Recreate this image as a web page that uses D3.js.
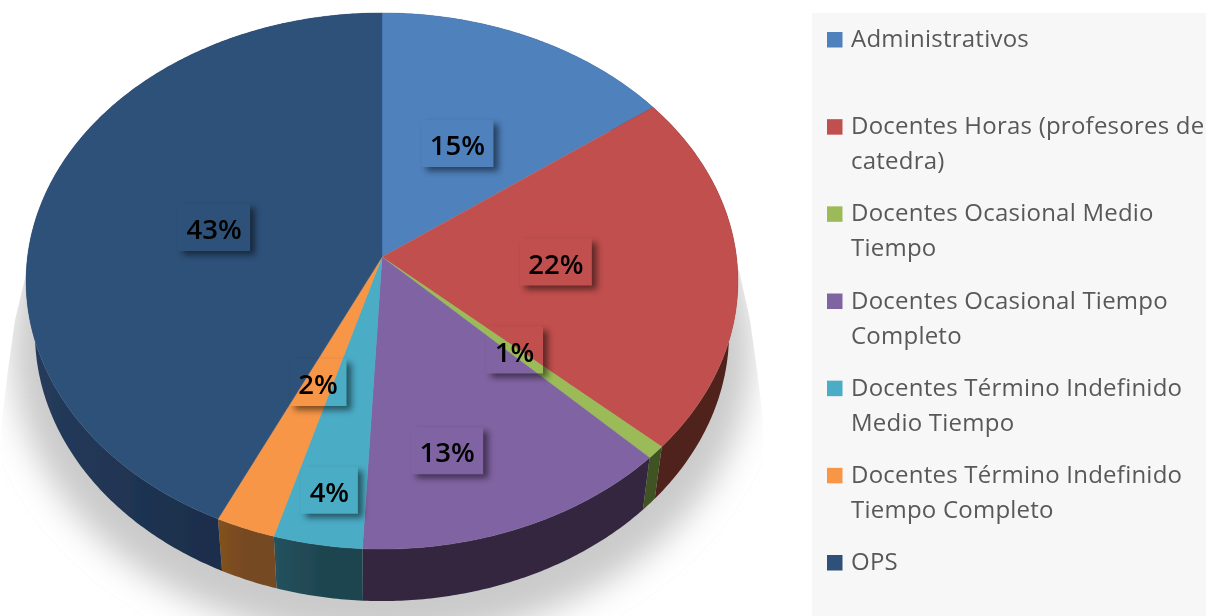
<!DOCTYPE html>
<html>
<head>
<meta charset="utf-8">
<script src="https://cdn.jsdelivr.net/npm/d3@7"></script>
<style>
  html, body { margin: 0; padding: 0; background: #fff; }
  svg { display: block; }
  text { font-family: "Open Sans", sans-serif; }
</style>
</head>
<body>
<svg id="chart"></svg>
<script>
const categories = [
  ['Administrativos'],
  ['Docentes Horas (profesores de', 'catedra)'],
  ['Docentes Ocasional Medio', 'Tiempo'],
  ['Docentes Ocasional Tiempo', 'Completo'],
  ['Docentes Término Indefinido', 'Medio Tiempo'],
  ['Docentes Término Indefinido', 'Tiempo Completo'],
  ['OPS']
];
const shares = [14.9, 21.8, 0.8, 13.3, 3.7, 2.49, 43.01];
const topColors = ['#4f81bd', '#c0504d', '#9bbb59', '#8064a2', '#4bacc6', '#f79646', '#2f5179'];
const wallColors = ['#263f5e', '#4f201e', '#3f5220', '#352841', '#1e4550', '#754820', '#1a2d4a'];
const wallColorsLeft = ['#263f5e', '#4f201e', '#3f5220', '#352841', '#25525e', '#82521f', '#263c5c'];

// label placement on the pie, as fraction of radius and a turn off the slice middle
const labelRadius = [0.49, 0.49, 0.5, 0.71, 0.83, 0.49, 0.49];
const labelTurn = [0, 0, 0, 7, 0, 0, 0];

const width = 1206, height = 616;
const cx = 382, cy = 257;
const rx = 354.5, ry = 265.9, tilt = 0.0895;
const depth = 52, shrink = 0.975;

const svg = d3.select('#chart').attr('width', width).attr('height', height);
const defs = svg.append('defs');

defs.append('filter').attr('id', 'shadowBlur')
  .attr('x', '-20%').attr('y', '-20%').attr('width', '140%').attr('height', '140%')
  .append('feGaussianBlur').attr('stdDeviation', 16);

defs.append('filter').attr('id', 'boxBlur')
  .attr('x', '-30%').attr('y', '-30%').attr('width', '160%').attr('height', '160%')
  .append('feGaussianBlur').attr('stdDeviation', 3.2);

defs.append('filter').attr('id', 'soft')
  .attr('x', '-5%').attr('y', '-5%').attr('width', '110%').attr('height', '110%')
  .append('feGaussianBlur').attr('stdDeviation', 0.45);

defs.append('clipPath').attr('id', 'shadowClip')
  .append('path').attr('d', 'M27,270L739,270L750,320L757,370L763,420L763,616L0,616L2,420L8,370L15,320Z');

wallColors.forEach((c, i) => {
  const grad = defs.append('linearGradient').attr('id', `wall${i}`);
  grad.append('stop').attr('offset', 0).attr('stop-color', wallColorsLeft[i]);
  grad.append('stop').attr('offset', 0.55).attr('stop-color', c);
});

// the pie lies tilted, so the near half comes out bigger than the far half
function project(angle, r = 1) {
  const x = Math.sin(angle) * r, y = -Math.cos(angle) * r;
  const w = 1 - tilt * y;
  return [cx + rx * x / w, cy + ry * y / w];
}
const lower = ([x, y]) => [cx + (x - cx) * shrink, y + depth];

const arcPoints = (a0, a1) => {
  const n = Math.max(2, Math.ceil((a1 - a0) / 0.01));
  return d3.range(n + 1).map(i => project(a0 + (a1 - a0) * i / n));
};

const pie = d3.pie().sort(null).value(d => d);
const slices = pie(shares);
const line = d3.line();

// shadow under the pie
svg.append('g').attr('filter', 'url(#soft)')
  .append('g').attr('clip-path', 'url(#shadowClip)')
  .append('ellipse')
  .attr('cx', cx).attr('cy', 350).attr('rx', 370).attr('ry', 292)
  .attr('fill', '#cbcbcb')
  .attr('filter', 'url(#shadowBlur)');

const pieGroup = svg.append('g').attr('filter', 'url(#soft)');

pieGroup.selectAll('path.wall')
  .data(slices)
  .enter()
  .append('path')
  .attr('class', 'wall')
  .attr('fill', (d, i) => `url(#wall${i})`)
  .attr('d', d => {
    const rim = arcPoints(d.startAngle, d.endAngle);
    return line(rim.concat(rim.map(lower).reverse())) + 'Z';
  });

pieGroup.selectAll('path.top')
  .data(slices)
  .enter()
  .append('path')
  .attr('class', 'top')
  .attr('fill', (d, i) => topColors[i])
  .attr('stroke', (d, i) => topColors[i])
  .attr('stroke-width', 0.4)
  .attr('d', d => line([[cx, cy]].concat(arcPoints(d.startAngle, d.endAngle))) + 'Z');

// percent labels: the box itself is see-through, only its shadow shows
const boxW = d => d.value < 9.5 ? 57 : 72;
const boxH = 47;

const labels = svg.selectAll('g.label')
  .data(slices)
  .enter()
  .append('g')
  .attr('class', 'label')
  .attr('transform', (d, i) => {
    const mid = (d.startAngle + d.endAngle) / 2 + labelTurn[i] * Math.PI / 180;
    const [x, y] = project(mid, labelRadius[i]);
    return `translate(${x},${y})`;
  });

labels.each(function (d, i) {
  const w = boxW(d);
  defs.append('clipPath').attr('id', `boxClip${i}`)
    .append('path')
    .attr('clip-rule', 'evenodd')
    .attr('d', `M-70,-70H70V70H-70Z M${-w / 2},-25h${w}v${boxH}h${-w}Z`);
});

labels.append('g')
  .attr('clip-path', (d, i) => `url(#boxClip${i})`)
  .append('rect')
  .attr('x', d => -boxW(d) / 2 + 5)
  .attr('y', -21)
  .attr('width', boxW)
  .attr('height', boxH)
  .attr('fill', '#000')
  .attr('opacity', 0.5)
  .attr('filter', 'url(#boxBlur)');

labels.append('text')
  .attr('text-anchor', 'middle')
  .attr('y', 10)
  .attr('font-size', 27.5)
  .attr('font-weight', 600)
  .attr('fill', '#000')
  .attr('filter', 'url(#soft)')
  .text(d => d3.format('.0f')(d.value) + '%');

// legend
svg.append('rect')
  .attr('x', 812).attr('y', 13)
  .attr('width', width - 812).attr('height', height - 13)
  .attr('fill', '#f7f7f7');

const legendY = d3.scaleLinear().domain([0, 6]).range([47, 570]);

const legend = svg.selectAll('g.legend')
  .data(categories)
  .enter()
  .append('g')
  .attr('class', 'legend')
  .attr('transform', (d, i) => `translate(827,${legendY(i)})`);

legend.append('rect')
  .attr('x', 0).attr('y', -15)
  .attr('width', 15.5).attr('height', 15.5)
  .attr('fill', (d, i) => topColors[i]);

legend.selectAll('text')
  .data(d => d)
  .enter()
  .append('text')
  .attr('x', 24)
  .attr('y', (d, i) => i * 35)
  .attr('font-size', 24)
  .attr('letter-spacing', 0.23)
  .attr('fill', '#595959')
  .attr('filter', 'url(#soft)')
  .text(d => d);
</script>
</body>
</html>
